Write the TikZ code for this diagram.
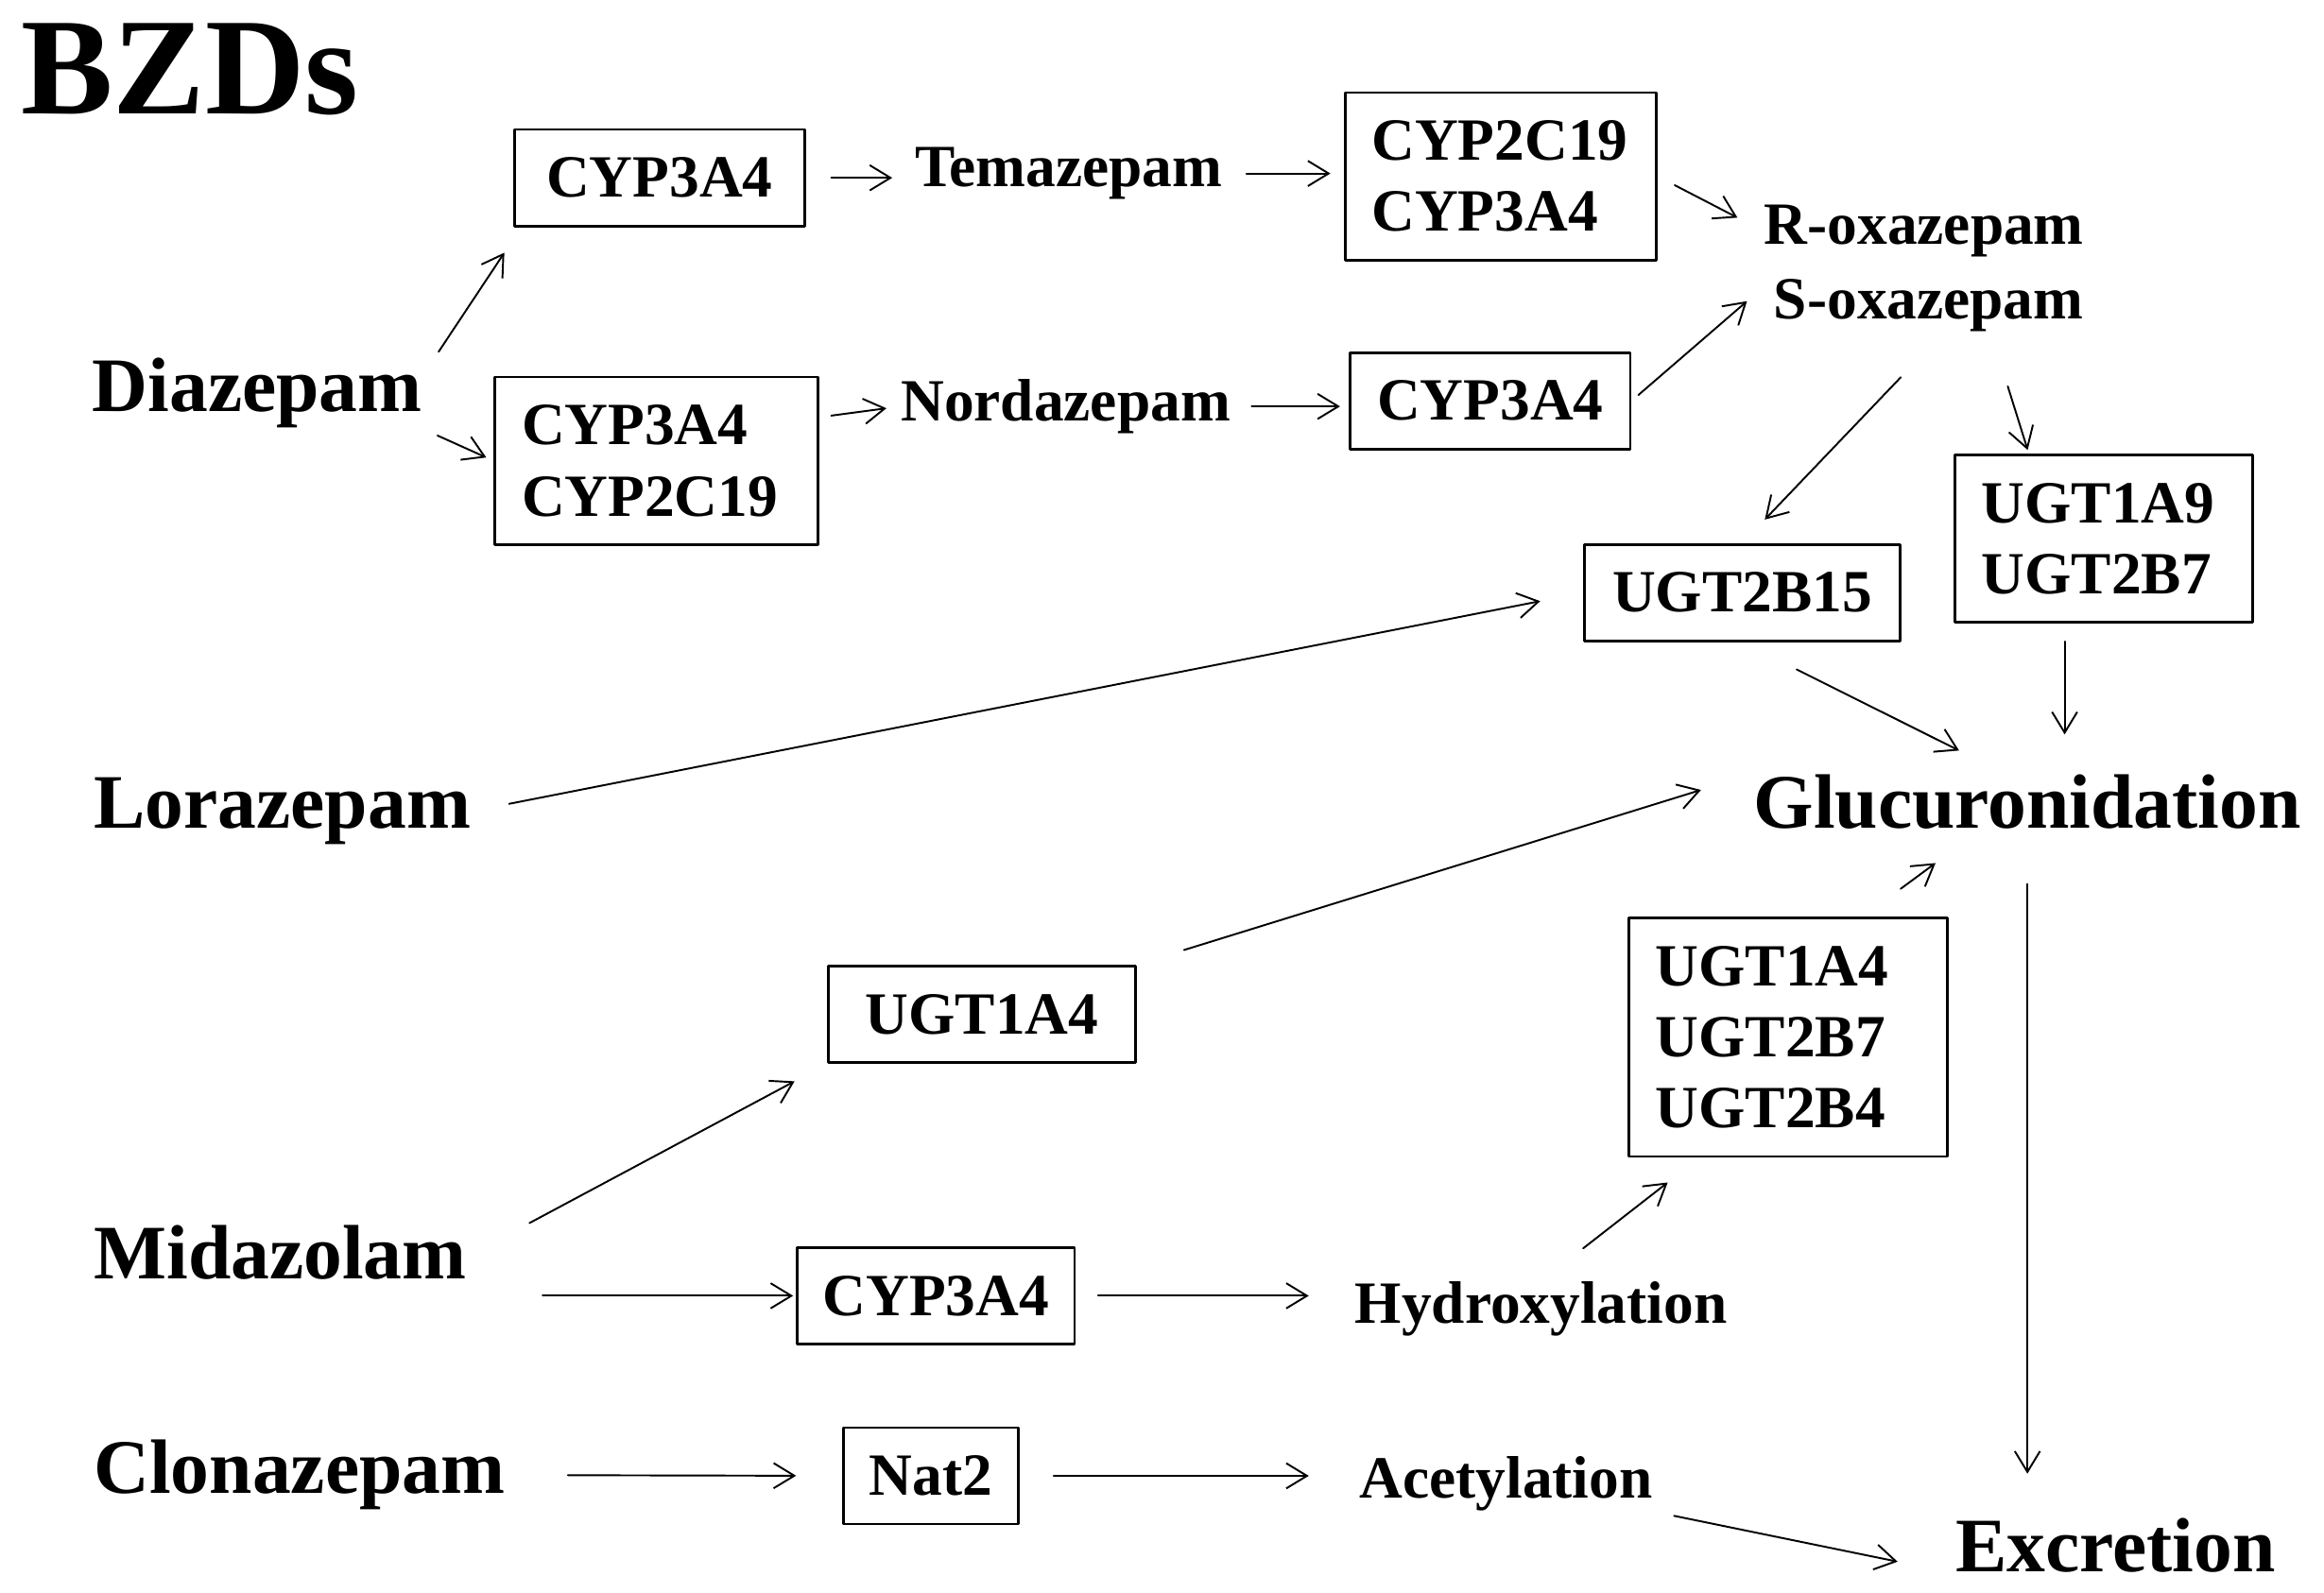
\documentclass[tikz,border=0pt]{standalone}
\usepackage{fontspec}
\setmainfont{Liberation Serif}
\usetikzlibrary{arrows.meta,calc}

\newcommand{\titlefont}{\fontsize{53}{58}\selectfont\bfseries}
\newcommand{\drugfont}{\fontsize{29.6}{34}\selectfont\bfseries}
\newcommand{\enzfont}{\fontsize{23}{27.3}\selectfont\bfseries}

\begin{document}
\begin{tikzpicture}[line cap=round,line join=round,>={Straight Barb[length=2.8mm,width=3.4mm]},x=0.2mm,y=-0.2mm,
  enz/.style={draw,line width=1pt,inner xsep=0pt,inner ysep=3.8mm,align=left,font=\enzfont},
  enzlist/.style={enz,inner xsep=3.6mm},
  drug/.style={inner sep=0pt,anchor=base west,font=\drugfont},
  prod/.style={inner sep=0pt,anchor=base west,font=\enzfont},
  link/.style={->,line width=0.7pt}]

\useasboundingbox (0,0) rectangle (1568,1075);

%labels
\node[drug,font=\titlefont] (title) at (14,77) {BZDs};
\node[drug] (dia) at (62,278) {Diazepam};
\node[drug] (lora) at (63,559) {Lorazepam};
\node[drug] (mida) at (63,863) {Midazolam};
\node[drug] (clon) at (63,1008) {Clonazepam};
\node[drug] (gluc) at (1183,558.6) {Glucuronidation};
\node[drug] (excr) at (1319,1061) {Excretion};

\node[prod] (tema) at (617,126) {Temazepam};
\node[prod] (nord) at (607.5,284) {Nordazepam};
\node[prod] (rox) at (1190,165) {R-oxazepam};
\node[prod] (sox) at (1196.5,215) {S-oxazepam};
\node[prod] (hydr) at (914,893) {Hydroxylation};
\node[prod] (acet) at (917,1011) {Acetylation};

%enzymes
\node[enz,minimum width=39.2mm] (cyptop) at (445,120) {CYP3A4};
\node[enzlist,text width=34.8mm] (c2c19) at (1012.5,119) {CYP2C19\\CYP3A4};
\node[enzlist,text width=36.4mm] (cypdual) at (443,311) {CYP3A4\\CYP2C19};
\node[enz,minimum width=37.8mm] (cypnord) at (1005.5,270.5) {CYP3A4};
\node[enz,minimum width=42.6mm] (u2b15) at (1175.5,400) {UGT2B15};
\node[enzlist,text width=33mm] (u1a9) at (1419.5,363.5) {UGT1A9\\UGT2B7};
\node[enz,minimum width=41.4mm] (u1a4) at (662.5,684.5) {UGT1A4};
\node[enzlist,text width=35.8mm] (ugttri) at (1206.5,700) {UGT1A4\\UGT2B7\\UGT2B4};
\node[enz,minimum width=37.4mm] (cypmid) at (631.5,874.5) {CYP3A4};
\node[enz,minimum width=23.6mm] (nat) at (628,996) {Nat2};

%diazepam
\draw[link,shorten <=1mm,shorten >=4.1mm] ([xshift=1.6mm]dia.north east) -- ([xshift=1.1mm]cyptop.south west);
\draw[link,shorten <=2.2mm,shorten >=1.1mm] (dia.south east) -- (cypdual.west);
\draw[link,shorten <=3.4mm,shorten >=3mm] (cyptop.east) -- (cyptop.east -| tema.west);
\draw[link,shorten <=3.2mm,shorten >=1.8mm] (tema.east) -- (tema.east -| c2c19.west);
\draw[link,shorten <=2.6mm,shorten >=4mm] (c2c19.east) -- (rox.west);
\draw[link,shorten <=1.6mm,shorten >=1.9mm] (cypdual.15) -- (nord.west);
\draw[link,shorten <=2.8mm,shorten >=1.2mm] (nord.east) -- (nord.east -| cypnord.west);
\draw[link,shorten <=1.2mm,shorten >=4.7mm] (cypnord.east) -- (sox.north west);
\draw[link,shorten <=8.5mm,shorten >=4.4mm] ($(sox.south west)!0.55!(sox.south east)$) -- (u2b15.north);
\draw[link,shorten <=7.7mm,shorten >=0.5mm] ($(sox.south west)!0.7!(sox.south east)$) -- ($(u1a9.north west)!0.25!(u1a9.north east)$);

%lorazepam
\draw[link,shorten <=5.2mm,shorten >=5.9mm] (lora.east) -- (u2b15.west);

%glucuronidation
\draw[link,shorten <=8.2mm,shorten >=7mm] (u2b15.south) -- ($(gluc.north west)!0.46!(gluc.north east)$);
\draw[link,shorten <=2.4mm,shorten >=5.3mm] ([xshift=-5.3mm]u1a9.south) -- ([xshift=-5.3mm]u1a9.south |- gluc.north);
\draw[link,shorten <=6.7mm,shorten >=7.4mm] (u1a4.north east) -- (gluc.north west);
\draw[link,shorten <=6.3mm,shorten >=7.7mm] ([xshift=10.1mm]ugttri.north) -- ([xshift=-6.2mm]gluc.south);
\draw[link,shorten <=7.4mm,shorten >=6mm] (gluc.south) -- (gluc.south |- excr.north);

%midazolam
\draw[link,shorten <=0.5mm,shorten >=5mm] ([xshift=8mm]mida.north east) -- (u1a4.south west);
\draw[link,shorten <=10.2mm,shorten >=0.4mm] (cypmid.west -| mida.east) -- (cypmid.west);
\draw[link,shorten <=3mm,shorten >=6.2mm] (cypmid.east) -- (cypmid.east -| hydr.west);
\draw[link,shorten <=7.2mm,shorten >=5.4mm] (hydr.north) -- ([xshift=-12mm]ugttri.south);

%clonazepam
\draw[link,shorten <=8.4mm,shorten >=6.2mm] (clon.east) -- (nat.west);
\draw[link,shorten <=4.6mm,shorten >=6.8mm] (nat.east) -- (nat.east -| acet.west);
\draw[link,shorten <=2.9mm,shorten >=7.9mm] (acet.south east) -- (excr.south west);

\end{tikzpicture}
\end{document}
